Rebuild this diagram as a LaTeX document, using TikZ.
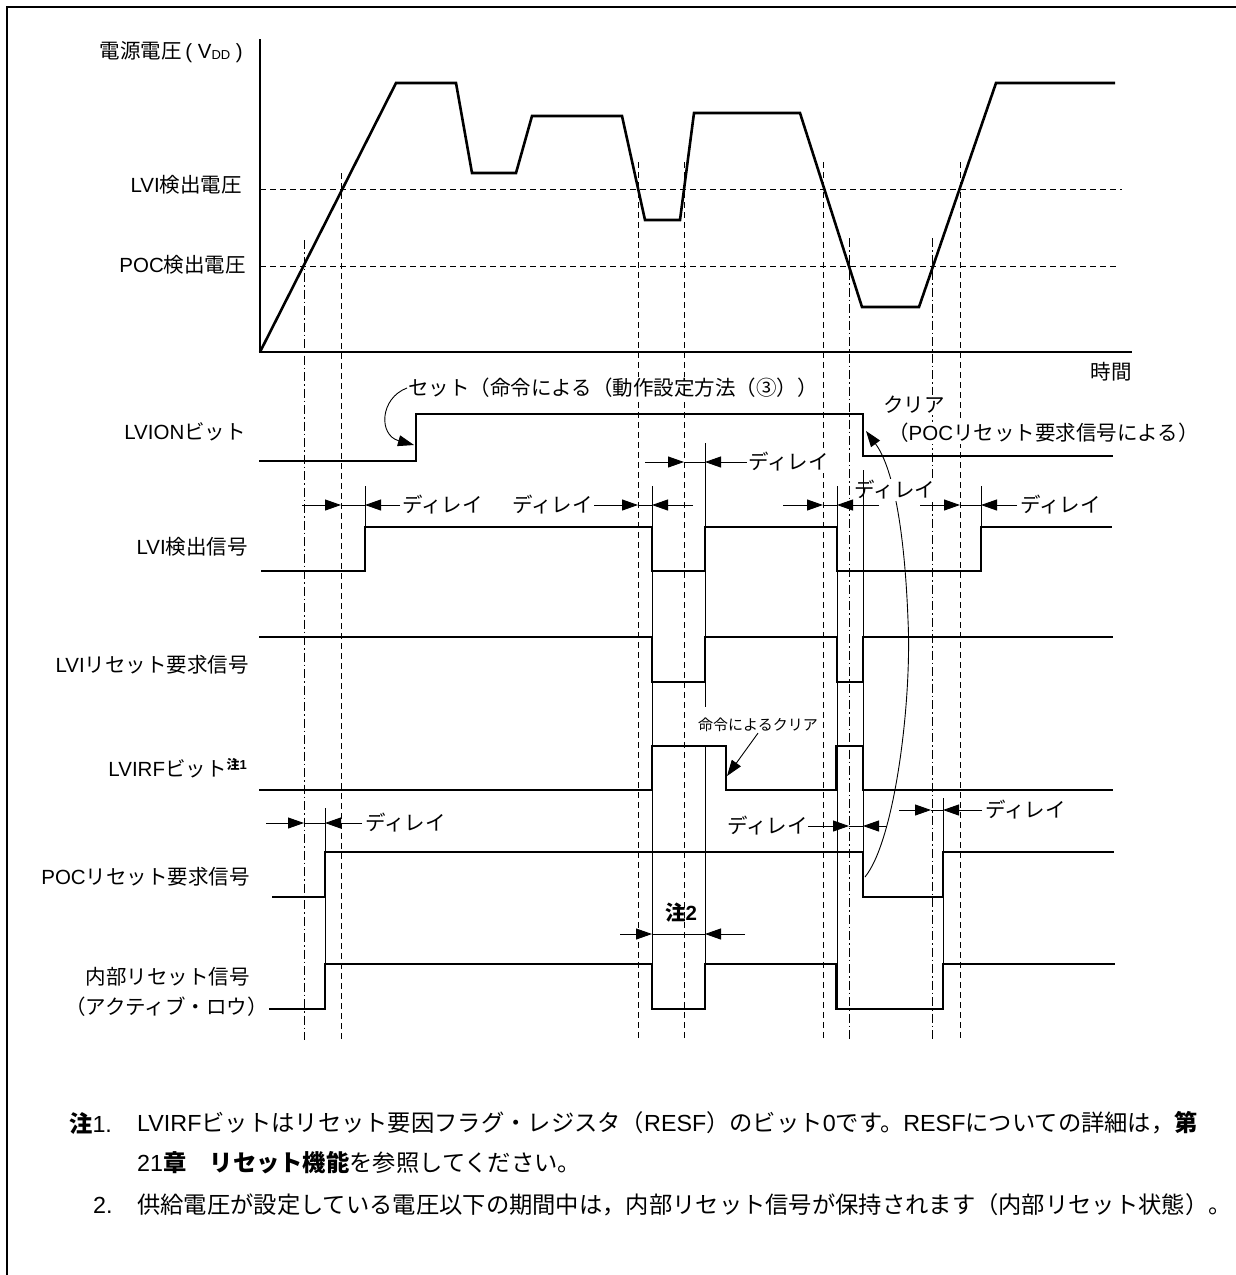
\documentclass[tikz,border=0pt]{standalone}
\usepackage{fontspec}
\setmainfont{Noto Sans CJK JP}
\newfontfamily\latf{Liberation Sans}
\newcommand\LatinTxt[1]{{\latf #1}}
\usetikzlibrary{arrows.meta}
\newcommand\dlymark[5]{%
  \draw[thinln,-{Triangle[length=16pt,width=11pt]}] (#2,#1) -- (#3,#1);
  \draw[thinln,-{Triangle[length=16pt,width=11pt]}] (#5,#1) -- (#4,#1);
  \draw[thinln] (#3,#1) -- (#4,#1);
}
\tikzset{
  frameln/.style={line width=2pt},
  sig/.style={line width=2.2pt, line join=miter, line cap=rect},
  vcurve/.style={line width=2.6pt, line join=miter},
  axisln/.style={line width=2.2pt},
  thinln/.style={line width=0.9pt},
  gdash/.style={line width=0.9pt, dash pattern=on 6pt off 4pt},
  gdot/.style={line width=0.9pt, dash pattern=on 9pt off 3pt on 1.5pt off 3pt},
  lbl/.style={font=\fontsize{20.5}{22}\selectfont, inner sep=0pt},
  wlbl/.style={font=\fontsize{20.5}{22}\selectfont, inner sep=1pt, fill=white},
  small/.style={font=\fontsize{15}{17}\selectfont, inner sep=1pt, fill=white},
  note/.style={font=\fontsize{23.3}{25}\selectfont, inner sep=0pt, anchor=west},
  tip/.style={-{Triangle[length=16pt,width=11pt]}},
}
\begin{document}
\begin{tikzpicture}[x=1pt,y=-1pt]
\useasboundingbox (0,0) rectangle (1236,1275);
\draw[frameln] (7,1275) -- (7,7) -- (1236,7);

% threshold lines
\draw[gdash] (260,189) -- (1122,189);
\draw[gdash] (260,266) -- (1118,266);

% guide verticals
\foreach \x/\t in {341/173, 638/162, 684/162, 823/162, 960/162}
  \draw[gdash] (\x,\t) -- (\x,1040);
\foreach \x/\t in {304/240, 849/238, 932/238}
  \draw[gdot] (\x,\t) -- (\x,1040);

% axes and voltage curve
\draw[axisln] (260,39) -- (260,352) -- (1132,352);
\draw[vcurve] (260,352) -- (396,83) -- (456,83) -- (472,173) -- (516,173) -- (532,116)
  -- (622,116) -- (645,220) -- (680,220) -- (694,113) -- (800,113) -- (862,307)
  -- (919,307) -- (996,83) -- (1115,83);

% axis labels
\node[lbl, anchor=east] (n-vdd) at (243,52) {電源電圧\LatinTxt{\,( V\raisebox{-1pt}{\fontsize{13}{13}\selectfont DD} )}};
\node[lbl, anchor=east] (n-lvivolt) at (242,185) {\LatinTxt{LVI}検出電圧};
\node[lbl, anchor=east] (n-pocvolt) at (246,265) {\LatinTxt{POC}検出電圧};
\node[lbl, anchor=east] (n-time) at (1132,372) {時間};

% signal labels
\node[lbl, anchor=east] (n-lvion) at (246,432) {\LatinTxt{LVION}ビット};
\node[lbl, anchor=east] (n-lvidet) at (248,547) {\LatinTxt{LVI}検出信号};
\node[lbl, anchor=east] (n-lvireset) at (249,665) {\LatinTxt{LVI}リセット要求信号};
\node[lbl, anchor=east] (n-lvirf) at (247,768) {\LatinTxt{LVIRF}ビット\raisebox{7pt}{\fontsize{13}{13}\selectfont\bfseries 注\LatinTxt{1}}};
\node[lbl, anchor=east] (n-pocreset) at (250,877) {\LatinTxt{POC}リセット要求信号};
\node[lbl, anchor=east] (n-intreset) at (250,977) {内部リセット信号};
\node[lbl, anchor=east] (n-intreset2) at (268,1007) {（アクティブ・ロウ）};

% key coordinates
\coordinate (lvion-rise) at (414,445);
\coordinate (lvion-fall) at (866,431);
\coordinate (poc-fall) at (865,877);
\coordinate (lvirf-fall) at (727,776);

% clear arrow (long curve)
\draw[thinln, tip] (poc-fall) .. controls (895,840) and (912,700) .. (908,620)
  .. controls (905,540) and (895,470) .. (lvion-fall);

% annotation texts (white background)
\node[wlbl, anchor=west] (n-set) at (407,388) {セット（命令による（動作設定方法（③））};
\node[wlbl, anchor=west] (n-clear) at (882,405) {クリア};
\node[wlbl, anchor=west] (n-clear2) at (887,433) {（\LatinTxt{POC}リセット要求信号による）};
\node[small] (n-cmdclear) at (758,725) {命令によるクリア};
\node[wlbl] (d4) at (895,490) {ディレイ};

% set arrow
\draw[thinln, tip] (n-set.west) .. controls (380,398) and (378,435) .. (lvion-rise);
% command clear arrow
\draw[thinln, tip] (n-cmdclear.south) -- (lvirf-fall);

% thin edge verticals
\foreach \x/\a/\b in {365/486/527, 652/486/1009, 705/443/707, 705/745/1009, 837/486/1009,
  863/470/897, 981/486/527, 325/808/1009, 943/798/1009}
  \draw[thinln] (\x,\a) -- (\x,\b);

% delay markers
\dlymark{505}{302}{341}{365}{400}
\node[lbl, anchor=west] (d1) at (402,505) {ディレイ};
\dlymark{505}{594}{638}{652}{693}
\node[lbl, anchor=east] (d2) at (593,505) {ディレイ};
\dlymark{462}{645}{684}{705}{747}
\node[wlbl, anchor=west] (d3) at (747,462) {ディレイ};
\dlymark{505}{783}{823}{837}{879}
\dlymark{505}{920}{960}{981}{1017}
\node[lbl, anchor=west] (d5) at (1020,505) {ディレイ};
\dlymark{823}{266}{304}{325}{362}
\node[lbl, anchor=west] (d6) at (365,823) {ディレイ};
\dlymark{826}{808}{849}{863}{887}
\node[lbl, anchor=east] (d7) at (808,826) {ディレイ};
\dlymark{810}{899}{931}{943}{982}
\node[lbl, anchor=west] (d8) at (985,810) {ディレイ};
\dlymark{934}{620}{652}{705}{745}
\node[lbl, font=\fontsize{20.5}{22}\selectfont\bfseries] (n-note2) at (681,913) {注\LatinTxt{2}};

% signals
\draw[sig] (260,461) -- (416,461) -- (416,414) -- (863,414) -- (863,456) -- (1112,456);
\draw[sig] (262,571) -- (365,571) -- (365,527) -- (652,527) -- (652,571) -- (705,571)
  -- (705,527) -- (837,527) -- (837,571) -- (981,571) -- (981,527) -- (1111,527);
\draw[sig] (260,637) -- (652,637) -- (652,682) -- (705,682) -- (705,637) -- (837,637)
  -- (837,682) -- (863,682) -- (863,637) -- (1112,637);
\draw[sig] (260,790) -- (652,790) -- (652,746) -- (726,746) -- (726,790) -- (836,790)
  -- (836,746) -- (863,746) -- (863,790) -- (1112,790);
\draw[sig] (273,897) -- (325,897) -- (325,852) -- (863,852) -- (863,897) -- (943,897)
  -- (943,852) -- (1113,852);
\draw[sig] (270,1009) -- (325,1009) -- (325,964) -- (652,964) -- (652,1009) -- (705,1009)
  -- (705,964) -- (836,964) -- (836,1009) -- (943,1009) -- (943,964) -- (1114,964);

% notes
\node[note] (nt1a) at (69,1123) {\textbf{注}\LatinTxt{1.}};
\node[note] (nt1b) at (137,1123) {\LatinTxt{LVIRF}ビットはリセット要因フラグ・レジスタ（\LatinTxt{RESF}）のビット\LatinTxt{0}です。\LatinTxt{RESF}についての詳細は，\textbf{第}};
\node[note] (nt1c) at (137,1163) {\LatinTxt{21}\textbf{章　リセット機能}を参照してください。};
\node[note] (nt2a) at (93,1205) {\LatinTxt{2.}};
\node[note] (nt2b) at (137,1205) {供給電圧が設定している電圧以下の期間中は，内部リセット信号が保持されます（内部リセット状態）。};
\end{tikzpicture}
\end{document}
